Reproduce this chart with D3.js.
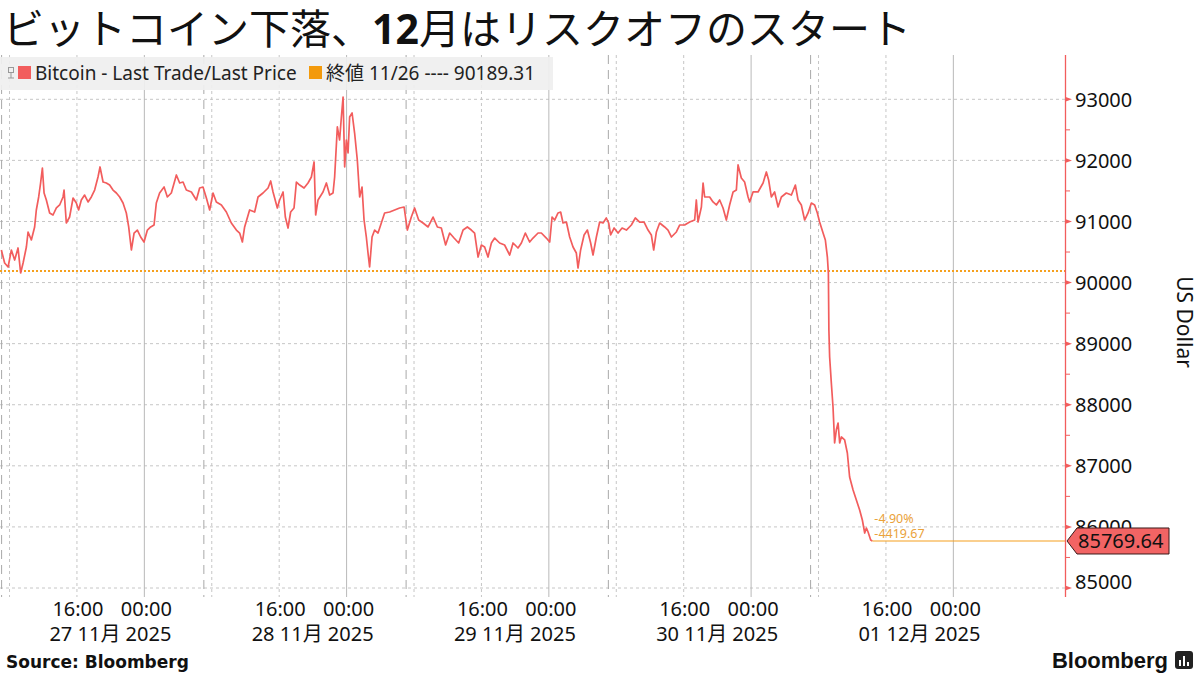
<!DOCTYPE html>
<html><head><meta charset="utf-8">
<script src="https://cdn.jsdelivr.net/npm/d3@7"></script>
<style>body{margin:0;background:#fff;}svg{display:block;}</style>
</head><body><svg id="c" width="1200" height="675"></svg>
<script>
// ---------- data ----------
const titlePre = "ビットコイン下落、";
const titleNum = "12";
const titlePost = "月はリスクオフのスタート";
const seriesName = "Bitcoin - Last Trade/Last Price";
const refName = "終値 11/26 ---- 90189.31";
const prevClose = 90189.31;
const lastPrice = 85769.64;
const changeAbs = "-4419.67";
const changePct = "-4.90%";
// hours since 2025-11-27 00:00
const hours = [7.03,7.42,7.83,8.22,8.61,9.01,9.32,9.61,10.00,10.20,10.59,10.98,11.18,11.46,11.69,11.90,12.10,12.37,12.76,13.16,13.56,13.95,14.35,14.47,14.74,15.13,15.54,15.93,16.20,16.52,16.91,17.32,17.71,18.10,18.50,18.74,19.10,19.49,19.88,20.28,20.68,21.07,21.47,21.86,22.14,22.46,22.78,23.17,23.56,23.96,24.36,24.75,25.15,25.42,25.81,26.34,26.73,27.20,27.80,28.19,28.59,28.98,29.58,30.17,30.56,30.96,31.36,31.75,32.15,32.54,33.14,33.73,34.32,34.92,35.31,35.63,35.90,36.49,37.09,37.49,38.08,38.68,38.99,39.27,39.78,40.05,40.46,40.73,41.05,41.36,41.76,42.04,42.43,42.95,43.42,43.82,44.14,44.33,44.61,45.20,45.60,45.99,46.39,46.58,46.90,47.17,47.38,47.58,47.77,47.97,48.17,48.36,48.65,48.95,49.27,49.55,49.83,50.07,50.34,50.54,50.73,51.02,51.33,51.73,52.12,52.51,53.11,53.70,54.29,54.82,55.21,55.68,56.07,56.55,57.07,57.67,58.26,58.77,59.24,59.75,60.23,60.75,61.30,61.82,62.33,62.80,63.19,63.60,63.99,64.38,64.78,65.18,65.57,66.16,66.75,67.35,67.75,68.34,68.74,69.21,69.72,70.12,70.72,71.11,71.70,72.10,72.38,72.69,73.09,73.40,73.68,74.08,74.47,74.87,75.26,75.46,75.77,76.18,76.57,76.96,77.24,77.64,78.03,78.43,78.82,79.10,79.33,79.74,80.21,80.69,81.20,81.79,82.26,82.77,83.30,83.77,84.16,84.44,84.76,85.15,85.74,86.14,86.54,87.13,87.52,88.11,88.71,89.30,89.50,89.70,90.10,90.30,90.49,91.08,91.48,91.88,92.27,92.67,93.06,93.45,93.86,94.25,94.45,94.84,95.23,95.64,95.83,96.23,96.82,97.42,97.81,98.08,98.40,98.79,99.20,99.59,100.18,100.78,101.25,101.57,101.96,102.35,102.76,103.15,103.54,103.86,104.13,104.54,104.81,105.05,105.17,105.23,105.32,105.52,105.72,105.91,106.11,106.32,106.51,106.71,107.10,107.42,107.69,108.10,108.49,108.88,109.20,109.48,109.68,109.88,110.19,110.39];
const prices = [90533,90320,90255,90533,90369,90566,90157,90320,90582,90828,90697,90910,91188,91401,91630,91875,91466,91352,91139,91106,91221,91270,91401,91515,90975,91073,91384,91302,91188,91352,91433,91319,91401,91515,91728,91892,91646,91630,91597,91515,91466,91401,91302,91139,90910,90533,90811,90860,90746,90664,90860,90910,90942,91302,91466,91564,91401,91466,91761,91630,91646,91515,91483,91352,91548,91564,91384,91188,91466,91319,91270,91155,90975,90860,90811,90664,90910,91188,91155,91401,91466,91548,91663,91483,91221,91352,91483,91073,90893,91155,91221,91646,91597,91548,91630,91728,91974,91106,91352,91483,91630,91433,91466,91728,92547,92334,92710,93038,91892,92334,92121,92710,92776,92448,92006,91401,91564,91024,90746,90484,90255,90746,90860,90811,90975,91139,91155,91188,91221,91237,90860,91073,91221,91024,90975,90910,91073,90910,90893,90615,90811,90729,90648,90860,90910,90860,90811,90418,90615,90582,90418,90648,90729,90648,90615,90451,90648,90566,90648,90811,90664,90729,90811,90811,90729,90664,91073,91024,91139,91155,90975,90991,90746,90582,90484,90238,90533,90779,90860,90648,90451,90746,90991,90975,91057,90975,90779,90893,90811,90893,90860,90942,91057,90991,90991,90860,90779,90533,90828,90975,90910,90860,90746,90828,90942,90942,90991,91024,91352,90991,91237,91630,91401,91401,91319,91270,91352,91221,91024,91270,91483,91515,91925,91712,91646,91401,91319,91483,91483,91630,91810,91679,91401,91483,91237,91401,91466,91433,91597,91352,91270,91024,91139,91302,91270,91139,90991,90811,90697,90418,90157,89223,88781,88356,87963,87374,87586,87701,87374,87472,87423,87210,86817,86604,86441,86277,86113,85900,85982,85917,85786,85769.64];
const yTicks = [85000,86000,87000,88000,89000,90000,91000,92000,93000];
const dayLabels = ["27 11月 2025","28 11月 2025","29 11月 2025","30 11月 2025","01 12月 2025"];
const timeLabels = ["16:00","00:00"];
const yTitle = "US Dollar";
const source = "Source: Bloomberg";
const brand = "Bloomberg";

// ---------- layout ----------
const W = 1200, H = 675;
const plotL = 0, plotR = 1065, plotT = 55, plotB = 597;
const base = Date.UTC(2025,10,27);
const T = h => new Date(base + h*3600000);
const pxPerHour = 202.25/24;
const startH = 6.87;
const x = d3.scaleUtc().domain([T(startH), T(startH + (plotR-plotL)/pxPerHour)]).range([plotL, plotR]);
const y = d3.scaleLinear().domain([85000, 93000]).range([588, 99.3]);

const RED = "#f25d5d", ORANGE = "#f5a01e", ORANGE_TXT = "#eaa23a";
const FONT = "'Noto Sans','Noto Sans CJK JP',sans-serif";
const svg = d3.select("#c");
svg.append("rect").attr("width",W).attr("height",H).attr("fill","#fff");

const g = svg.append("g");

// horizontal grid
g.selectAll("line.hg").data(yTicks).join("line")
  .attr("x1",plotL).attr("x2",plotR).attr("y1",d=>y(d)).attr("y2",d=>y(d))
  .attr("stroke","#c6c6c6").attr("stroke-width",1).attr("stroke-dasharray","3,3");

// vertical grid
const endH = 120; // up to Dec 2 00:00
const dotted = [], solid = [], dashed = [];
for (let d = 0; d < 6; d++) {
  const h0 = d*24;
  [8,16].forEach(k => { if (h0+k >= startH && h0+k <= endH) dotted.push(h0+k); });
  if (h0 >= startH && h0 <= endH) solid.push(h0);
  if (h0+7 >= startH && h0+7 < endH) dashed.push(h0+7);
}
g.selectAll("line.vdot").data(dotted).join("line")
  .attr("x1",d=>x(T(d))).attr("x2",d=>x(T(d))).attr("y1",plotT).attr("y2",plotB)
  .attr("stroke","#c6c6c6").attr("stroke-dasharray","3,3");
g.selectAll("line.vsol").data(solid).join("line")
  .attr("x1",d=>x(T(d))).attr("x2",d=>x(T(d))).attr("y1",plotT).attr("y2",plotB)
  .attr("stroke","#b9b9b9");
g.selectAll("line.vdash").data(dashed).join("line")
  .attr("x1",d=>x(T(d))+0.5).attr("x2",d=>x(T(d))+0.5).attr("y1",plotT).attr("y2",plotB)
  .attr("stroke","#a8a8a8").attr("stroke-dasharray","9,6");

// previous close dotted line
g.append("line").attr("x1",plotL).attr("x2",plotR).attr("y1",y(prevClose)).attr("y2",y(prevClose))
  .attr("stroke",ORANGE).attr("stroke-width",2).attr("stroke-dasharray","2,2");

// series
const pts = hours.map((h,i)=>[T(h), prices[i]]);
g.append("path").datum(pts)
  .attr("d", d3.line().x(d=>x(d[0])).y(d=>y(d[1])))
  .attr("fill","none").attr("stroke",RED).attr("stroke-width",1.7).attr("stroke-linejoin","round");

// last value annotation line
const lastT = T(hours[hours.length-1]);
g.append("line").attr("x1",x(lastT)).attr("x2",plotR).attr("y1",y(lastPrice)).attr("y2",y(lastPrice))
  .attr("stroke",ORANGE).attr("stroke-width",1.2);
g.append("text").attr("x",x(lastT)+2).attr("y",y(lastPrice)-18).text(changePct)
  .attr("font-family",FONT).attr("font-size",12.5).attr("fill",ORANGE_TXT);
g.append("text").attr("x",x(lastT)+2).attr("y",y(lastPrice)-3).text(changeAbs)
  .attr("font-family",FONT).attr("font-size",12.5).attr("fill",ORANGE_TXT);

// right axis
const ax = svg.append("g");
ax.append("line").attr("x1",plotR+0.5).attr("x2",plotR+0.5).attr("y1",plotT).attr("y2",plotB)
  .attr("stroke",RED).attr("stroke-width",1.3);
const minor = d3.range(85500, 93001, 1000);
ax.selectAll("line.mn").data(minor).join("line")
  .attr("x1",plotR).attr("x2",plotR+5).attr("y1",d=>y(d)).attr("y2",d=>y(d)).attr("stroke",RED);
ax.selectAll("path.mj").data(yTicks).join("path")
  .attr("d",d=>`M${plotR},${y(d)-2.5}L${plotR+7},${y(d)}L${plotR},${y(d)+2.5}Z`).attr("fill",RED);
ax.selectAll("text.yl").data(yTicks).join("text")
  .attr("x",plotR+10).attr("y",(d,i)=>y(d) + (i===0 ? -6 : 0)).attr("dy","0.36em")
  .text(d=>d3.format("d")(d))
  .attr("font-family",FONT).attr("font-size",20).attr("fill","#111");
svg.append("text").attr("transform",`translate(1177,${(plotT+plotB)/2-4}) rotate(90)`)
  .attr("text-anchor","middle").text(yTitle)
  .attr("font-family",FONT).attr("font-size",21).attr("fill","#111");

// last price tag
const ly = y(lastPrice);
ax.append("path")
  .attr("d",`M${plotR+2},${ly}L${plotR+12},${ly-13}L${plotR+104},${ly-13}L${plotR+104},${ly+13}L${plotR+12},${ly+13}Z`)
  .attr("fill","#f26464").attr("stroke","#3a1a1a").attr("stroke-width",1);
ax.append("text").attr("x",plotR+13).attr("y",ly).attr("dy","0.36em").text(d3.format(".2f")(lastPrice))
  .attr("font-family",FONT).attr("font-size",20).attr("fill","#111");

// x labels
const xl = svg.append("g").attr("font-family",FONT).attr("fill","#111");
for (let d = 0; d < 5; d++) {
  const h16 = d*24+16, h00 = (d+1)*24;
  xl.append("text").attr("x",x(T(h16))+1).attr("y",616).attr("text-anchor","middle").text(timeLabels[0]).attr("font-size",20);
  xl.append("text").attr("x",x(T(h00))+2).attr("y",616).attr("text-anchor","middle").text(timeLabels[1]).attr("font-size",20);
  xl.append("text").attr("x",x(T(h00))+27).attr("y",641).attr("text-anchor","end").text(dayLabels[d]).attr("font-size",20);
}

// legend
const lg = svg.append("g");
lg.append("rect").attr("x",0).attr("y",57).attr("width",553).attr("height",33).attr("fill","#efefef").attr("opacity",0.92);
lg.append("rect").attr("x",8.5).attr("y",67.5).attr("width",5).attr("height",5).attr("fill","none").attr("stroke","#999");
lg.append("line").attr("x1",11).attr("x2",11).attr("y1",72.5).attr("y2",78).attr("stroke","#999");
lg.append("line").attr("x1",8).attr("x2",14).attr("y1",78).attr("y2",78).attr("stroke","#999");
lg.append("rect").attr("x",18).attr("y",66).attr("width",13).attr("height",13).attr("fill",RED);
lg.append("text").attr("x",35).attr("y",80).text(seriesName).attr("font-family",FONT).attr("font-size",19).attr("fill","#222");
lg.append("rect").attr("x",309).attr("y",66).attr("width",13).attr("height",13).attr("fill","#f39a0c");
lg.append("text").attr("x",326).attr("y",80).text(refName).attr("font-family",FONT).attr("font-size",19).attr("fill","#222");

// title
const tt = svg.append("text").attr("x",3).attr("y",44).attr("font-size",41).attr("fill","#111")
  .attr("font-family","'Noto Sans CJK JP',sans-serif");
tt.append("tspan").text(titlePre);
tt.append("tspan").text(titleNum).attr("font-weight","bold").attr("font-family","'Noto Sans','DejaVu Sans',sans-serif");
tt.append("tspan").text(titlePost);

// footer
svg.append("text").attr("x",6).attr("y",668).text(source)
  .attr("font-family","'DejaVu Sans',sans-serif").attr("font-weight","bold").attr("font-size",17).attr("fill","#111");
svg.append("text").attr("x",1168).attr("y",668).attr("text-anchor","end").text(brand)
  .attr("font-family","'Liberation Sans',Arial,sans-serif").attr("font-weight","bold").attr("font-size",22).attr("fill","#111");
const ic = svg.append("g");
ic.append("rect").attr("x",1175).attr("y",651).attr("width",18).attr("height",18).attr("rx",3).attr("fill","#222");
[[1179,660,2,6],[1183,656,2,10],[1187,662,2,4]].forEach(r=>ic.append("rect").attr("x",r[0]).attr("y",r[1]).attr("width",r[2]).attr("height",r[3]).attr("fill","#fff"));
</script></body></html>
